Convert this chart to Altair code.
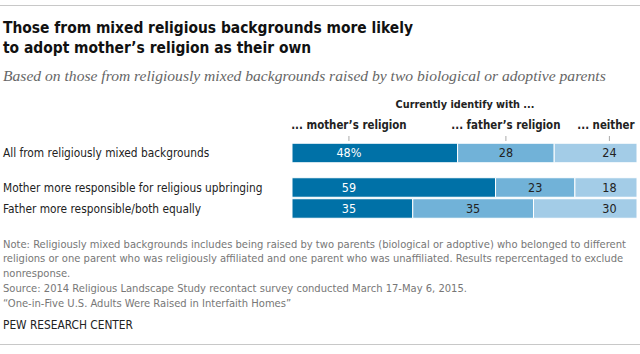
import altair as alt
import pandas as pd

# ---------------- data ----------------
categories = [
    "All from religiously mixed backgrounds",
    "Mother more responsible for religious upbringing",
    "Father more responsible/both equally",
]
mother = [48, 59, 35]
father = [28, 23, 35]
neither = [24, 18, 30]
series = ["\u2026 mother\u2019s religion", "\u2026 father\u2019s religion", "\u2026 neither"]
series_headers = ["... mother\u2019s religion", "... father\u2019s religion", "... neither"]
colors = ["#0071A7", "#71B2D8", "#A3CCE7"]

title_lines = [
    "Those from mixed religious backgrounds more likely",
    "to adopt mother\u2019s religion as their own",
]
subtitle = "Based on those from religiously mixed backgrounds raised by two biological or adoptive parents"
group_header = "Currently identify with ..."
notes = [
    "Note: Religiously mixed backgrounds includes being raised by two parents (biological or adoptive) who belonged to different",
    "religions or one parent who was religiously affiliated and one parent who was unaffiliated. Results repercentaged to exclude",
    "nonresponse.",
    "Source: 2014 Religious Landscape Study recontact survey conducted March 17-May 6, 2015.",
    "\u201cOne-in-Five U.S. Adults Were Raised in Interfaith Homes\u201d",
]
credit = "PEW RESEARCH CENTER"

# ---------------- style / layout constants ----------------
SANS = "'DejaVu Sans Condensed', sans-serif"
SERIF = "'Liberation Serif', serif"
MOTHER_LX = 16.5   # label position (percent axis) for first segment labels
NEITHER_LX = 92.0  # label position for last segment labels
NEITHER_HX = 91.0  # header position for "neither"
TOP_SHIFT = -13.5  # extra gap between first row and the others

rows = []
for i, cat in enumerate(categories):
    vals = [mother[i], father[i], neither[i]]
    start = 0
    for j, s in enumerate(series):
        v = vals[j]
        if j == 0:
            lx = MOTHER_LX
        elif j == 1:
            lx = start + v / 2
        else:
            lx = NEITHER_LX
        rows.append(dict(
            row=cat, grp="top" if i == 0 else "bottom", series=s,
            start=start, end=start + v, lx=lx,
            label=f"{v}%" if (i == 0 and j == 0) else str(v),
            tcol="white" if j == 0 else "#222222",
        ))
        start += v
df = pd.DataFrame(rows)

father_center_top = mother[0] + father[0] / 2
hdr = pd.DataFrame({
    "h": series_headers,
    "tx": [MOTHER_LX, father_center_top, NEITHER_LX],
    "hx": [MOTHER_LX, father_center_top, NEITHER_HX],
})

xs = alt.Scale(domain=[0, 100], range=[292, 637])
ys = alt.Scale(domain=categories, range=[156, 219], paddingInner=0.07, paddingOuter=0.035)
cs = alt.Scale(domain=series, range=colors)


def group_layers(grp, offset):
    base = alt.Chart(df).transform_filter(alt.datum.grp == grp)
    bars = base.mark_bar(stroke="white", strokeWidth=1, yOffset=offset).encode(
        x=alt.X("start:Q", scale=xs, axis=None),
        x2="end:Q",
        y=alt.Y("row:N", scale=ys, axis=None),
        color=alt.Color("series:N", scale=cs, legend=None),
    )
    labels = base.mark_text(font=SANS, fontSize=12.5, baseline="middle", yOffset=offset).encode(
        x=alt.X("lx:Q", scale=xs, axis=None),
        y=alt.Y("row:N", scale=ys, axis=None),
        text="label:N",
        color=alt.Color("tcol:N", scale=None),
    )
    rowlab = base.transform_filter(alt.datum.lx == MOTHER_LX).mark_text(
        font=SANS, fontSize=11.8, align="left", baseline="middle", color="#222222", yOffset=offset
    ).encode(
        x=alt.value(3),
        y=alt.Y("row:N", scale=ys, axis=None),
        text="row:N",
    )
    return [bars, labels, rowlab]


def txt(s, x, y, **kw):
    return alt.Chart(pd.DataFrame({"t": [s]})).mark_text(
        align=kw.pop("align", "left"), baseline="alphabetic", **kw
    ).encode(x=alt.value(x), y=alt.value(y), text="t:N")


layers = []
# rules top and bottom
rule_df = pd.DataFrame({"a": [0]})
layers.append(alt.Chart(rule_df).mark_rule(color="#c8c8c8", strokeWidth=1).encode(
    x=alt.value(0), x2=alt.value(640), y=alt.value(5.5)))
layers.append(alt.Chart(rule_df).mark_rule(color="#c8c8c8", strokeWidth=1).encode(
    x=alt.value(0), x2=alt.value(640), y=alt.value(344.5)))

# title / subtitle
layers.append(txt(title_lines[0], 3, 33, font=SANS, fontSize=15.4, fontWeight="bold", color="#111111"))
layers.append(txt(title_lines[1], 3, 53, font=SANS, fontSize=15.4, fontWeight="bold", color="#111111"))
layers.append(txt(subtitle, 3, 81, font=SERIF, fontSize=15.6, fontStyle="italic", color="#666666"))

# group header
layers.append(txt(group_header, 465, 108, font=SANS, fontSize=10.8, fontWeight="bold",
                  color="#222222", align="center"))

# column headers and ticks
layers.append(alt.Chart(hdr).mark_text(font=SANS, fontSize=11.4, fontWeight="bold",
                                       baseline="alphabetic", color="#222222").encode(
    x=alt.X("hx:Q", scale=xs, axis=None), y=alt.value(129), text="h:N"))
layers.append(alt.Chart(hdr).mark_rule(color="#aaaaaa", strokeWidth=1).encode(
    x=alt.X("tx:Q", scale=xs, axis=None), y=alt.value(136), y2=alt.value(141)))

layers += group_layers("top", TOP_SHIFT)
layers += group_layers("bottom", 0)

# notes
note_y = [247.5, 262, 277, 291.5, 306.5]
for s, yy in zip(notes, note_y):
    layers.append(txt(s, 3, yy, font=SANS, fontSize=11.1, color="#777777"))
layers.append(txt(credit, 3, 329, font=SANS, fontSize=11.8, color="#222222"))

chart = alt.layer(*layers).properties(
    width=640, height=354,
    autosize=alt.AutoSizeParams(type="none"),
    padding=0,
).configure_view(stroke=None)

chart.save("out.html", embed_options={"renderer": "svg", "actions": False})
